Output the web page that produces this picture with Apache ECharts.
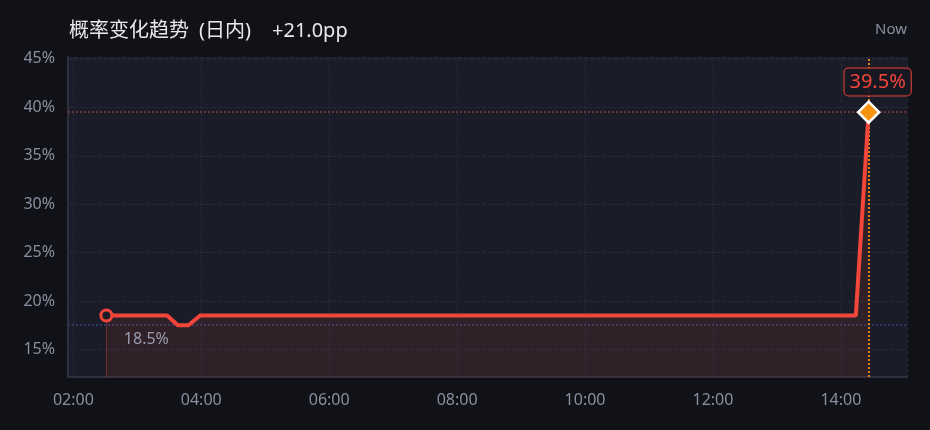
<!DOCTYPE html>
<html>
<head>
<meta charset="utf-8">
<script src="https://cdn.jsdelivr.net/npm/echarts@6/dist/echarts.min.js"></script>
<style>
html,body{margin:0;padding:0;background:#111217;}
#c{width:930px;height:430px;}
</style>
</head>
<body>
<div id="c"></div>
<script>
// ---- data ----
const times = ['02:31', '03:28', '03:38', '03:48', '03:59', '14:14', '14:26'];
const probs = [18.5, 18.5, 17.5, 17.5, 18.5, 18.5, 39.5];
const titleMain = '概率变化趋势';
const titleSub = '(日内)';
const changeText = '+21.0pp';
const nowText = 'Now';
const xRange = ['01:55', '15:02'];
const yRange = [12.15, 45.2];

function toH(s){ const p = s.split(':'); return +p[0] + (+p[1])/60; }
function pad(n){ return (n < 10 ? '0' : '') + n; }

const pts = times.map((t, i) => [toH(t), probs[i]]);
const last = pts.length - 1;
const minVal = Math.min.apply(null, probs);

const seriesData = pts.map((p, i) => {
  if (i === 0) {
    return {
      value: p, symbol: 'circle', symbolSize: 11,
      itemStyle: { color: '#1a1c27', borderColor: '#f2463a', borderWidth: 3 },
      label: { show: true, position: 'bottom', distance: 6, offset: [40, 3],
        formatter: probs[0].toFixed(1) + '%', color: '#9a9db0', fontSize: 16, fontFamily: 'Noto Sans' }
    };
  }
  if (i === last) {
    return {
      value: p, symbol: 'diamond', symbolSize: 21,
      itemStyle: { color: '#f7930f', borderColor: '#ffffff', borderWidth: 2.5 },
      label: { show: true, position: 'top', distance: 5, offset: [9, 0],
        formatter: probs[last].toFixed(1) + '%', color: '#f2463a', fontSize: 20, fontFamily: 'Noto Sans',
        backgroundColor: 'rgba(22,23,32,0.9)', borderColor: '#e0413a', borderWidth: 1,
        borderRadius: 4, padding: [3, 5, 2, 5], lineHeight: 22 }
    };
  }
  return { value: p, symbol: 'none' };
});

const tStyle = { fill: '#e9e9ec', fontSize: 20, fontFamily: 'Noto Sans, Noto Sans CJK SC' };
const chart = echarts.init(document.getElementById('c'), null, { renderer: 'canvas' });
chart.setOption({
  backgroundColor: '#111217',
  animation: false,
  graphic: [
    { type: 'text', left: 69, top: 21, style: Object.assign({ text: titleMain }, tStyle) },
    { type: 'text', left: 199, top: 21, style: Object.assign({ text: titleSub }, tStyle) },
    { type: 'text', left: 272, top: 21, style: Object.assign({ text: changeText }, tStyle) },
    { type: 'text', right: 23, top: 22,
      style: { text: nowText, fill: '#8a8ea0', fontSize: 15, fontFamily: 'Noto Sans' } }
  ],
  grid: {
    left: 68, right: 23, top: 57, bottom: 53,
    show: true, backgroundColor: '#1a1c27', borderWidth: 0
  },
  xAxis: {
    type: 'value',
    min: toH(xRange[0]), max: toH(xRange[1]),
    splitNumber: 6,
    axisLine: { show: true, lineStyle: { color: '#2e3040', width: 2 } },
    axisTick: { show: false },
    axisLabel: {
      color: '#8a8ea0', fontSize: 16, fontFamily: 'Noto Sans', margin: 15,
      showMinLabel: false, showMaxLabel: false,
      formatter: v => (Math.abs(v - Math.round(v)) < 1e-6 && Math.round(v) % 2 === 0) ? pad(Math.round(v)) + ':00' : ''
    },
    splitLine: { show: true, lineStyle: { color: '#262938', type: 'dashed', width: 1 } }
  },
  yAxis: {
    type: 'value',
    min: yRange[0], max: yRange[1],
    splitNumber: 6,
    axisLine: { show: true, lineStyle: { color: '#2e3040', width: 2 } },
    axisTick: { show: false },
    axisLabel: {
      color: '#8a8ea0', fontSize: 16, fontFamily: 'Noto Sans', margin: 13,
      padding: [6, 0, 0, 0],
      showMinLabel: false, showMaxLabel: false,
      formatter: v => (Math.abs(v % 5) < 1e-6) ? v + '%' : ''
    },
    splitLine: { show: true, lineStyle: { color: '#262938', type: 'dashed', width: 1 } }
  },
  series: [{
    type: 'line',
    data: [],
    z: 1,
    markLine: {
      z: 1,
      silent: true, symbol: 'none', label: { show: false },
      data: [
        { yAxis: probs[last], lineStyle: { color: '#6e2f36', type: 'dotted', width: 2 } },
        { yAxis: minVal, lineStyle: { color: '#2c3a63', type: 'dotted', width: 2 } },
        { xAxis: pts[last][0], lineStyle: { color: '#e0841c', type: 'dotted', width: 2 } },
        [{ coord: [pts[0][0], pts[0][1]] , lineStyle: { color: 'rgba(240,68,56,0.35)', type: 'solid', width: 1 } },
         { coord: [pts[0][0], yRange[0]] }]
      ]
    }
  }, {
    type: 'line',
    data: seriesData,
    lineStyle: { color: '#f2463a', width: 4 },
    itemStyle: { color: '#f2463a' },
    areaStyle: { color: 'rgba(240,68,56,0.15)' },
    z: 3
  }]
});
</script>
</body>
</html>
